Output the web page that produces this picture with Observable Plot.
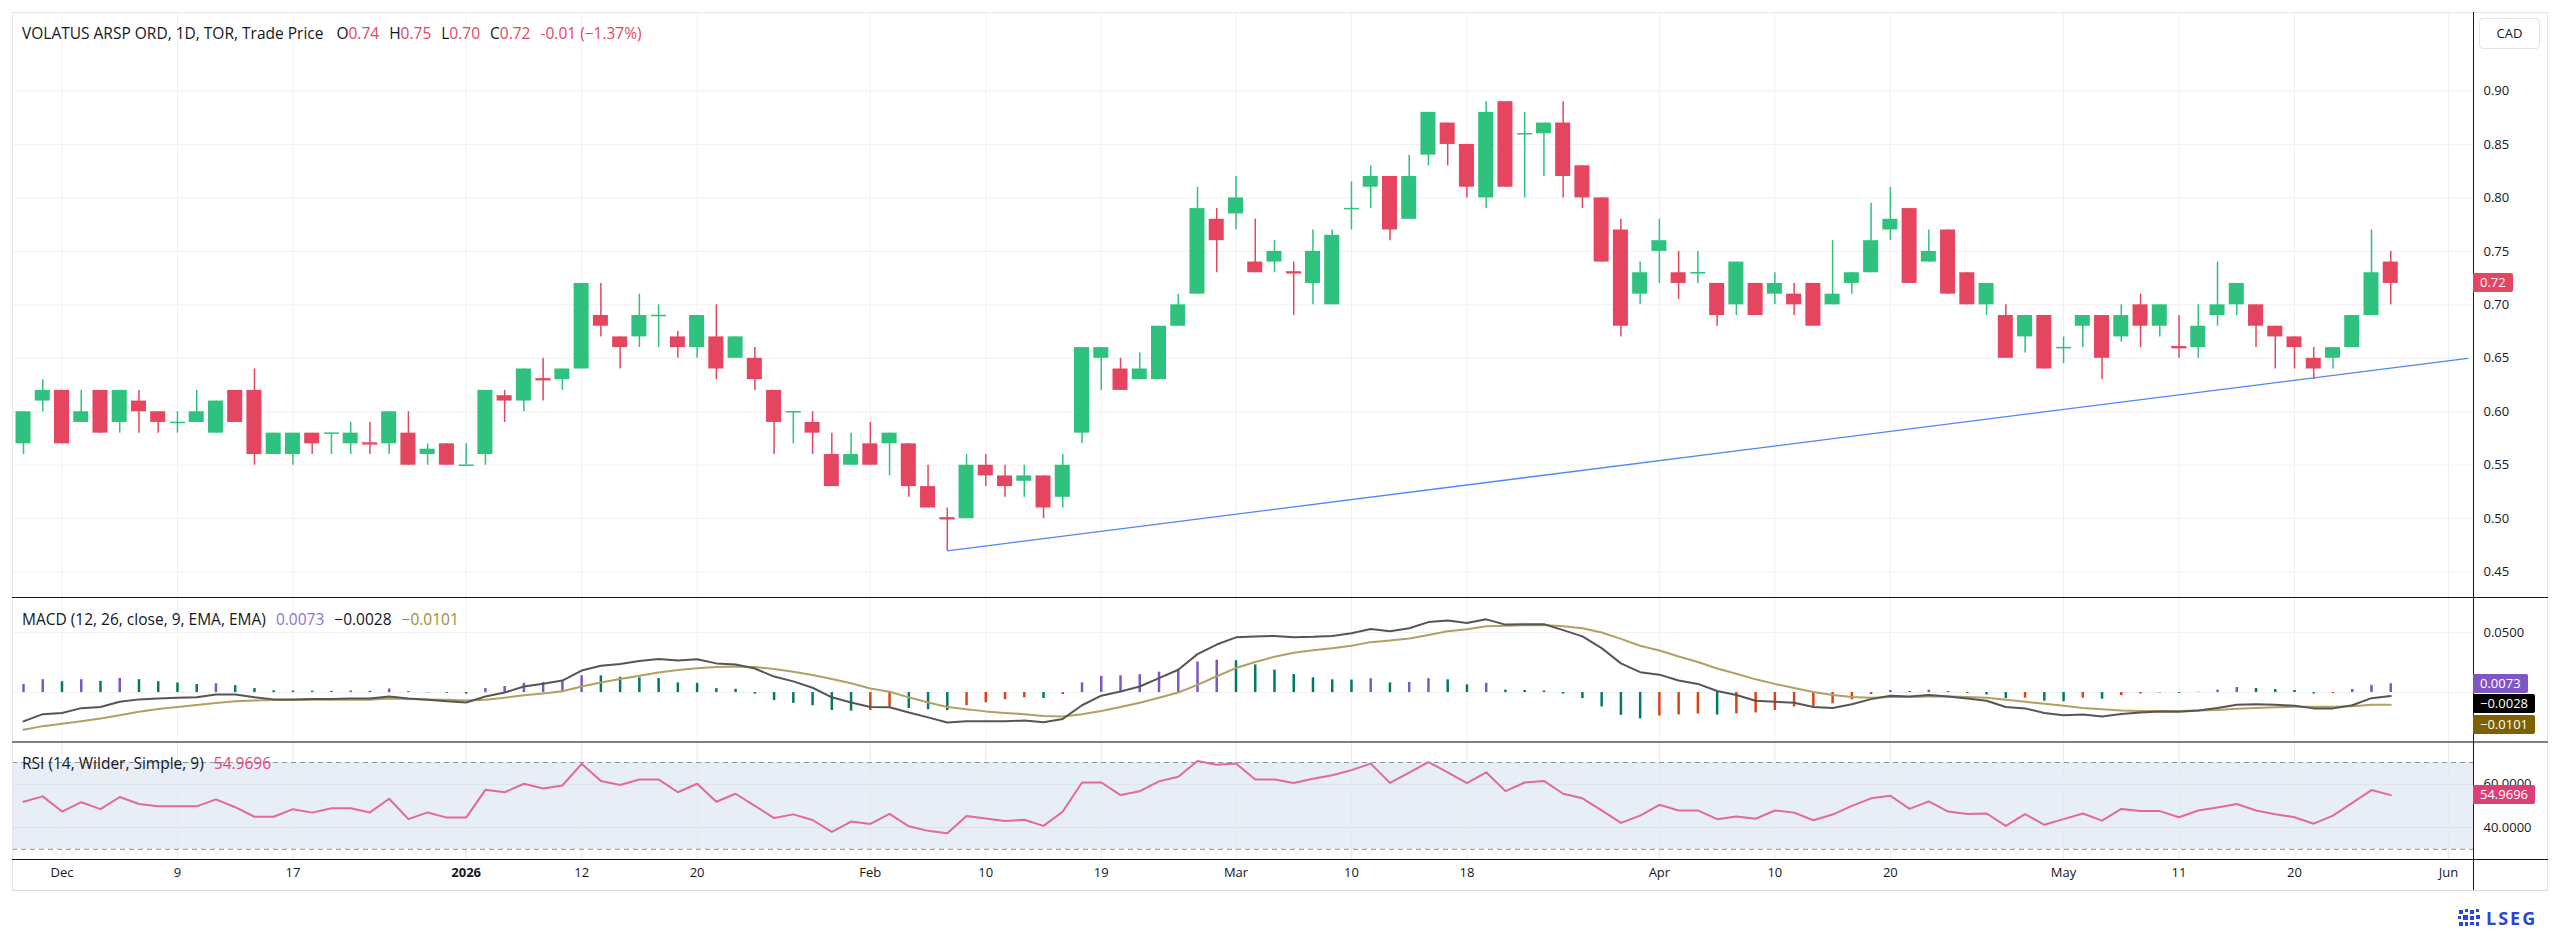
<!DOCTYPE html>
<html><head><meta charset="utf-8">
<script src="https://cdn.jsdelivr.net/npm/d3@7"></script>
<script src="https://cdn.jsdelivr.net/npm/@observablehq/plot@0.6"></script>
<style>
html,body{margin:0;padding:0;background:#fff;}
#root{position:relative;width:2560px;height:932px;overflow:hidden;font-family:"Open Sans",Roboto,sans-serif;color:#131722;}
#root svg{position:absolute;left:0;}
.ln{position:absolute;}
.legend{position:absolute;left:22px;font-size:15.5px;line-height:18px;white-space:nowrap;}
.legend span.v{margin-left:10px;}
.vbox{position:absolute;left:2473px;height:19px;line-height:19px;padding:0 7px;font-size:13px;color:#fff;border-radius:0 2px 2px 0;white-space:nowrap;}
#cad{position:absolute;left:2479px;top:18px;width:61px;height:31px;box-sizing:border-box;border:1px solid #e0e3eb;border-radius:4px;font-size:13px;line-height:29px;text-align:center;}
#logo{position:absolute;left:2457px;top:905px;height:26px;display:flex;align-items:center;gap:5px;color:#2b45d8;font-weight:bold;font-size:18px;letter-spacing:2px;}
</style></head><body><div id="root"></div>
<script>
// ---------------- data ----------------
const dates = ["2025-11-27","2025-11-28",
"2025-12-01","2025-12-02","2025-12-03","2025-12-04","2025-12-05","2025-12-08","2025-12-09","2025-12-10","2025-12-11","2025-12-12","2025-12-15","2025-12-16","2025-12-17","2025-12-18","2025-12-19","2025-12-22","2025-12-23","2025-12-24","2025-12-29","2025-12-30","2025-12-31",
"2026-01-02","2026-01-05","2026-01-06","2026-01-07","2026-01-08","2026-01-09","2026-01-12","2026-01-13","2026-01-14","2026-01-15","2026-01-16","2026-01-19","2026-01-20","2026-01-21","2026-01-22","2026-01-23","2026-01-26","2026-01-27","2026-01-28","2026-01-29","2026-01-30",
"2026-02-02","2026-02-03","2026-02-04","2026-02-05","2026-02-06","2026-02-09","2026-02-10","2026-02-11","2026-02-12","2026-02-13","2026-02-17","2026-02-18","2026-02-19","2026-02-20","2026-02-23","2026-02-24","2026-02-25","2026-02-26","2026-02-27",
"2026-03-02","2026-03-03","2026-03-04","2026-03-05","2026-03-06","2026-03-09","2026-03-10","2026-03-11","2026-03-12","2026-03-13","2026-03-16","2026-03-17","2026-03-18","2026-03-19","2026-03-20","2026-03-23","2026-03-24","2026-03-25","2026-03-26","2026-03-27","2026-03-30","2026-03-31",
"2026-04-01","2026-04-02","2026-04-06","2026-04-07","2026-04-08","2026-04-09","2026-04-10","2026-04-13","2026-04-14","2026-04-15","2026-04-16","2026-04-17","2026-04-20","2026-04-21","2026-04-22","2026-04-23","2026-04-24","2026-04-27","2026-04-28","2026-04-29","2026-04-30",
"2026-05-01","2026-05-04","2026-05-05","2026-05-06","2026-05-07","2026-05-08","2026-05-11","2026-05-12","2026-05-13","2026-05-14","2026-05-15","2026-05-19","2026-05-20","2026-05-21","2026-05-22","2026-05-25","2026-05-26","2026-05-27"];
const futureDates = ["2026-05-28","2026-05-29","2026-06-01","2026-06-02"];

const open = [.57,.61,.62,.59,.62,.59,.61,.60,.59,.59,.58,.62,.62,.56,.56,.58,.58,.57,.571,.57,
.58,.56,.57,.55,.56,.615,.61,.631,.63,.64,.69,.67,.67,.69,.67,.66,.67,.65,.65,.62,
.60,.59,.56,.55,.57,.57,.57,.53,.501,.50,.55,.54,.535,.54,.52,.58,.65,.64,.63,.63,
.68,.71,.78,.785,.74,.74,.731,.72,.70,.79,.81,.82,.78,.84,.87,.85,.80,.89,.86,.86,
.87,.83,.80,.77,.71,.75,.73,.73,.72,.70,.72,.71,.71,.72,.70,.72,.73,.77,.79,.74,
.77,.73,.70,.69,.67,.69,.66,.68,.69,.67,.70,.68,.661,.66,.69,.70,.70,.68,.67,.65,
.65,.66,.69,.74];
const high = [.60,.63,.62,.62,.62,.62,.62,.60,.60,.62,.61,.62,.64,.58,.58,.58,.58,.59,.59,.60,
.60,.57,.57,.57,.62,.62,.64,.65,.64,.72,.72,.67,.71,.70,.675,.69,.70,.67,.66,.62,
.60,.60,.58,.58,.59,.58,.57,.55,.51,.56,.56,.55,.55,.54,.56,.66,.66,.65,.655,.68,
.71,.81,.79,.82,.78,.76,.74,.77,.77,.815,.83,.82,.84,.88,.87,.85,.89,.89,.88,.87,
.89,.83,.80,.78,.74,.78,.75,.75,.72,.74,.72,.73,.72,.72,.76,.73,.795,.81,.79,.77,
.77,.73,.72,.70,.69,.69,.67,.69,.69,.70,.71,.70,.69,.70,.74,.72,.70,.68,.67,.66,
.66,.69,.77,.75];
const low = [.56,.60,.57,.59,.58,.58,.58,.58,.58,.59,.58,.59,.55,.56,.55,.56,.56,.56,.56,.56,
.55,.55,.55,.55,.55,.59,.60,.61,.62,.64,.67,.64,.66,.66,.65,.65,.63,.65,.62,.56,
.57,.56,.53,.55,.55,.54,.52,.51,.47,.50,.53,.52,.52,.50,.51,.57,.62,.62,.63,.63,
.68,.71,.73,.77,.73,.73,.69,.70,.70,.77,.79,.76,.78,.83,.83,.80,.79,.81,.80,.82,
.80,.79,.74,.67,.70,.72,.705,.72,.68,.69,.69,.70,.69,.68,.70,.71,.73,.76,.72,.74,
.71,.70,.69,.65,.655,.64,.645,.66,.63,.665,.66,.67,.65,.65,.68,.69,.66,.64,.64,.63,
.64,.66,.69,.70];
const close = [.60,.62,.57,.60,.58,.62,.60,.59,.59,.60,.61,.59,.56,.58,.58,.57,.58,.58,.570,.60,
.55,.565,.55,.55,.62,.61,.64,.630,.64,.72,.68,.66,.69,.69,.66,.69,.64,.67,.63,.59,
.60,.58,.53,.56,.55,.58,.53,.51,.500,.55,.54,.53,.54,.51,.55,.66,.66,.62,.64,.68,
.70,.79,.76,.80,.73,.75,.730,.75,.765,.79,.82,.77,.82,.88,.85,.81,.88,.81,.86,.87,
.82,.80,.74,.68,.73,.76,.72,.73,.69,.74,.69,.72,.70,.68,.71,.73,.76,.78,.72,.75,
.71,.70,.72,.65,.69,.64,.66,.69,.65,.69,.68,.70,.660,.68,.70,.72,.68,.67,.66,.64,
.66,.69,.73,.72];

const macdLine = [-.024,-.018,-.017,-.013,-.012,-.0077,-.0057,-.005,-.0043,-.004,-.0017,-.0017,-.004,-.0057,-.0057,-.0053,-.0053,-.005,-.005,-.0033,
-.005,-.006,-.0073,-.0083,-.0033,0,.005,.0073,.010,.0183,.0223,.0237,.0263,.028,.0267,.0277,.0243,.0233,.020,.0133,
.0093,.004,-.004,-.0083,-.012,-.0123,-.0167,-.0207,-.025,-.024,-.024,-.024,-.0234,-.0247,-.022,-.0106,-.0026,.0009,.005,.012,
.019,.032,.040,.046,.0468,.0472,.046,.0464,.0472,.0494,.053,.051,.0536,.0587,.060,.058,.061,.0566,.057,.057,
.052,.0468,.037,.0243,.017,.0149,.010,.0072,.0013,-.002,-.0068,-.0077,-.0085,-.012,-.0128,-.0098,-.0055,-.0026,-.0034,-.002,
-.0034,-.005,-.0068,-.012,-.0132,-.017,-.019,-.0183,-.020,-.0179,-.0166,-.0157,-.016,-.0149,-.0128,-.0102,-.0098,-.0102,-.011,-.0132,
-.0132,-.0106,-.0047,-.0028];
const signalLine = [-.031,-.028,-.026,-.024,-.0217,-.019,-.016,-.0137,-.012,-.0103,-.0087,-.0073,-.0067,-.0063,-.0063,-.006,-.006,-.006,-.006,-.005,
-.0053,-.0057,-.006,-.0067,-.006,-.0043,-.0023,-.0007,.001,.005,.0083,.0113,.014,.0167,.0187,.0203,.0213,.0217,.0213,.0197,
.0173,.0147,.0113,.0077,.0033,.0007,-.004,-.0083,-.012,-.014,-.0157,-.017,-.018,-.0196,-.020,-.018,-.0153,-.012,-.0085,-.0043,
0,.0064,.0136,.0204,.0255,.0298,.0332,.0353,.037,.039,.042,.0434,.045,.048,.051,.0528,.0553,.0557,.056,.0562,
.0553,.0536,.050,.0447,.039,.035,.030,.0255,.020,.0157,.011,.0072,.0038,.0004,-.002,-.0038,-.0043,-.0038,-.0038,-.0034,
-.0034,-.0037,-.0043,-.006,-.0077,-.0094,-.011,-.0128,-.014,-.0149,-.0153,-.0153,-.0153,-.0149,-.0145,-.0136,-.0128,-.0123,-.0119,-.0119,
-.0119,-.0115,-.0102,-.0101];
const histogram = [.0067,.0107,.009,.0107,.0093,.0117,.0107,.009,.008,.0067,.0073,.0057,.0033,.0015,.0013,.0011,.0010,.0013,.0010,.003,
.0007,-.0003,-.0007,-.0013,.0033,.005,.0077,.0083,.010,.014,.0139,.0127,.0123,.0117,.008,.0077,.0033,.0027,-.0013,-.0067,
-.009,-.011,-.015,-.0155,-.015,-.012,-.0133,-.0143,-.015,-.011,-.0085,-.006,-.0043,-.005,-.0017,.008,.0135,.014,.0149,.017,
.019,.0255,.027,.0265,.023,.0187,.015,.0123,.0106,.0104,.0115,.008,.0085,.0115,.0106,.0064,.0077,.002,.0017,.0013,
-.0013,-.005,-.012,-.019,-.022,-.0196,-.0187,-.0179,-.0187,-.0178,-.017,-.0149,-.012,-.0118,-.0094,-.006,-.0017,.0017,.0009,.002,
.0008,-.0008,-.002,-.005,-.0047,-.0072,-.0077,-.0047,-.0055,-.0026,-.0013,-.0004,-.0007,.0003,.002,.0042,.0034,.0025,.0017,-.0012,
-.0009,.0026,.006,.0073];
const rsi = [51.9,54.4,47.4,51.7,48.5,54.1,50.9,49.8,49.8,49.8,53,49.4,45,45,48.5,46.9,48.9,48.9,47,53.3,
43.9,47,44.6,44.6,57.4,56.3,60.2,58,59.4,69.4,61.5,59.6,62.2,62.2,56.3,60.2,51.9,55.6,50,44.4,
46.1,43.5,38,42.8,41.7,46.3,40.6,38.5,37.4,45.4,44.2,43,43.6,40.8,47.4,60.8,60.8,55,56.8,61.3,
63.4,70.7,69,69.5,62.2,62.2,60.6,62.5,64.1,66.5,69.5,60.6,65.3,70.2,65.5,60.5,65.5,56.8,60.8,61.5,
55.6,53.5,47.9,42.2,45.5,50.5,47.9,47.9,43.9,45.1,44.1,47.9,46.9,43.4,46,50,53.5,54.7,48.6,52.1,
47.4,46.3,46.5,40.8,46.2,41.3,43.9,46.5,43.2,48.6,47.6,47.6,44.8,47.9,49.3,50.9,47.9,46.2,44.8,41.8,
45.5,51.4,57.3,54.9696];

const trendPoints = [{date:"2026-02-06", value:0.47},{date:"2026-06-02", value:0.65}];
const tickDates = ["2025-12-01","2025-12-09","2025-12-17","2026-01-02","2026-01-12","2026-01-20","2026-02-02","2026-02-10","2026-02-19","2026-03-02","2026-03-10","2026-03-18","2026-04-01","2026-04-10","2026-04-20","2026-05-01","2026-05-11","2026-05-20","2026-06-01"];
const tickLabels = ["Dec","9","17","2026","12","20","Feb","10","19","Mar","10","18","Apr","10","20","May","11","20","Jun"];
const yearLabels = ["2026"];
const priceTicks = [0.45,0.50,0.55,0.60,0.65,0.70,0.75,0.80,0.85,0.90];
const macdGrid = [0,0.05];
const macdAxisTicks = [0.05];
const rsiBand = [30,70];
const rsiGrid = [40,60];
const titleText = "VOLATUS ARSP ORD, 1D, TOR, Trade Price";
const ohlcKeys = ["O","H","L","C"];
const changeText = "-0.01 (−1.37%)";
const currency = "CAD";
const macdTitle = "MACD (12, 26, close, 9, EMA, EMA)";
const rsiTitle = "RSI (14, Wilder, Simple, 9)";

// ---------------- styles ----------------
const UP = "#2ec27e", DOWN = "#e5455f", GRID = "#f0f1f4";
const PURPLE = "#7e57c2", TEAL = "#00796b", ORANGE = "#d84315";
const MACDC = "#555555", SIGC = "#b39f62", RSIC = "#e26a96";
const FONT = '"Open Sans",Roboto,sans-serif';
const W = 2560, ML = 12, MR = 87;
const xDomain = [-0.5716, 127.3];

const allDates = dates.concat(futureDates);
const ix = d => allDates.indexOf(d);
const candles = dates.map((d,i)=>({i, date:d, open:open[i], high:high[i], low:low[i], close:close[i]}));
const col = d => d.close >= d.open ? UP : DOWN;
const dojis = candles.filter(d => Math.abs(d.close - d.open) < 0.0015);
const ticks = tickDates.map((d,k)=>({i: ix(d), label: tickLabels[k]}));
const tickI = ticks.map(t=>t.i);
const trend = trendPoints.map(p=>({i: ix(p.date), value: p.value}));
const macdData = dates.map((d,i)=>({i, macd: macdLine[i], signal: signalLine[i], hist: histogram[i],
  color: (()=>{const h=histogram[i], p=histogram[i-1];
    if (h >= 0) return (p === undefined || h > p) ? PURPLE : TEAL;
    return h < p ? TEAL : ORANGE;})()}));
const rsiData = dates.map((d,i)=>({i, v: rsi[i]}));
const xOpt = {type:"linear", domain:xDomain, axis:null};
const style = {fontFamily:FONT, fontSize:"13px", color:"#131722", background:"transparent", overflow:"visible"};
const yAxis = (t, fmt) => Plot.axisY(t, {anchor:"right", tickSize:0, tickPadding:10, tickFormat:d3.format(fmt), fill:"#131722", fontSize:13, label:null});

const root = document.getElementById("root");

// ---------------- main (price) pane ----------------
const main = Plot.plot({
  width: W, height: 597, marginTop: 12, marginBottom: 0, marginLeft: ML, marginRight: MR,
  x: xOpt, y: {domain:[0.4263, 0.9734], label:null}, style,
  marks: [
    Plot.ruleY(priceTicks, {stroke: GRID}),
    Plot.ruleX(tickI, {stroke: GRID}),
    Plot.line(trend, {x:"i", y:"value", stroke:"#4f86f7", strokeWidth:1.3}),
    Plot.ruleX(candles, {x:"i", y1:"low", y2:"high", stroke: col, strokeWidth:1.5}),
    Plot.rect(candles, {x1: d=>d.i-0.39, x2: d=>d.i+0.39, y1:"open", y2:"close", fill: col}),
    Plot.link(dojis, {x1: d=>d.i-0.39, x2: d=>d.i+0.39, y1:"close", y2:"close", stroke: col, strokeWidth:1.5}),
    yAxis(priceTicks, ".2f")
  ]
});
main.style.top = "0px";
root.append(main);

// ---------------- MACD pane ----------------
const macdPlot = Plot.plot({
  width: W, height: 144, marginTop: 0, marginBottom: 0, marginLeft: ML, marginRight: MR,
  x: xOpt, y: {domain:[-0.0408, 0.0792], label:null}, style,
  marks: [
    Plot.ruleY(macdGrid, {stroke: GRID}),
    Plot.ruleX(tickI, {stroke: GRID}),
    Plot.ruleX(macdData, {x:"i", y1:0, y2:"hist", stroke:"color", strokeWidth:2.5}),
    Plot.line(macdData, {x:"i", y:"signal", stroke:SIGC, strokeWidth:2}),
    Plot.line(macdData, {x:"i", y:"macd", stroke:MACDC, strokeWidth:2}),
    yAxis(macdAxisTicks, ".4f")
  ]
});
macdPlot.style.top = "597px";
root.append(macdPlot);

// ---------------- RSI pane + time axis ----------------
const rsiPlot = Plot.plot({
  width: W, height: 191, marginTop: 0, marginBottom: 73, marginLeft: ML, marginRight: MR,
  x: xOpt, y: {domain:[25.3, 79.68], label:null}, style,
  marks: [
    Plot.rect([rsiBand], {x1: xDomain[0], x2: xDomain[1], y1: d=>d[0], y2: d=>d[1], fill:"#e8eef5"}),
    Plot.ruleY(rsiGrid, {stroke:"#d9e0ea"}),
    Plot.ruleX(tickI, {stroke:"#e6e9ee"}),
    Plot.ruleY(rsiBand, {stroke:"#8f929a", strokeDasharray:"5,4", strokeWidth:1}),
    Plot.line(rsiData, {x:"i", y:"v", stroke:RSIC, strokeWidth:2}),
    yAxis(rsiGrid, ".4f"),
    Plot.text(ticks.filter(t=>!yearLabels.includes(t.label)), {x:"i", text:"label", frameAnchor:"bottom", dy:17, fill:"#131722", fontSize:13}),
    Plot.text(ticks.filter(t=>yearLabels.includes(t.label)), {x:"i", text:"label", frameAnchor:"bottom", dy:17, fill:"#131722", fontSize:13, fontWeight:"bold"})
  ]
});
rsiPlot.style.top = "741px";
root.append(rsiPlot);

// ---------------- frame lines ----------------
function line(l,t,w,h,c){const e=document.createElement("div");e.className="ln";Object.assign(e.style,{left:l+"px",top:t+"px",width:w+"px",height:h+"px",background:c});root.append(e);}
line(12,12,2536,1,"#e4e6eb");   // top
line(12,12,1,878,"#e4e6eb");    // left
line(2547,12,1,878,"#e4e6eb");  // right
line(12,890,2536,1,"#d6d8dd");  // bottom
line(12,597,2536,1,"#131722");
line(12,741,2536,1.5,"#7b7e86");
line(12,859,2536,1,"#131722");
line(2473,12,1,878,"#131722");

// ---------------- legends ----------------
const last = candles[candles.length-1];
const f2 = d3.format(".2f"), f4 = d3.format(".4f");
const lastColor = col(last);
const hdr = document.createElement("div"); hdr.className="legend"; hdr.style.top="24px";
hdr.innerHTML = `<span>${titleText}</span>` +
  ohlcKeys.map((k,j)=>`<span class="v" style="margin-left:${j?10:13}px">${k}<span style="color:${lastColor}">${f2([last.open,last.high,last.low,last.close][j])}</span></span>`).join("") +
  `<span class="v" style="color:${lastColor}">${changeText}</span>`;
root.append(hdr);

const lm = macdData[macdData.length-1];
const mleg = document.createElement("div"); mleg.className="legend"; mleg.style.top="610px";
mleg.innerHTML = `<span>${macdTitle}</span><span class="v" style="color:#8d72c9">${f4(lm.hist)}</span><span class="v" style="color:#131722">${f4(lm.macd)}</span><span class="v" style="color:#a38b3a">${f4(lm.signal)}</span>`;
root.append(mleg);

const lr = rsiData[rsiData.length-1];
const rleg = document.createElement("div"); rleg.className="legend"; rleg.style.top="754px";
rleg.innerHTML = `<span>${rsiTitle}</span><span class="v" style="color:#e0457b">${f4(lr.v)}</span>`;
root.append(rleg);

// ---------------- value boxes ----------------
function vbox(text,bg,yc){const e=document.createElement("div");e.className="vbox";e.style.background=bg;e.style.top=(yc-9.5)+"px";e.textContent=text;root.append(e);return yc;}
const sy = main.scale("y"), my = macdPlot.scale("y"), ry = rsiPlot.scale("y");
vbox(f2(last.close), lastColor, sy.apply(last.close));
let y0 = vbox(f4(lm.hist), PURPLE, 597 + my.apply(lm.hist));
let y1 = vbox(f4(lm.macd), "#000000", Math.max(597 + my.apply(lm.macd), y0 + 20.5));
vbox(f4(lm.signal), "#7d6100", Math.max(597 + my.apply(lm.signal), y1 + 20.5));
vbox(f4(lr.v), "#dc3f76", 741 + ry.apply(lr.v));

const cad = document.createElement("div"); cad.id="cad"; cad.textContent=currency; root.append(cad);
const logo = document.createElement("div"); logo.id="logo";
logo.innerHTML = `<svg width="24" height="20" viewBox="0 0 24 20" style="position:static"><g fill="#2b45d8">
<rect x="2" y="2" width="4" height="4"/><rect x="8" y="1" width="3" height="3"/><rect x="13" y="2" width="4" height="4"/><rect x="19" y="1" width="3" height="3"/>
<rect x="1" y="8" width="3" height="3"/><rect x="6" y="7" width="5" height="5"/><rect x="13" y="8" width="4" height="4"/><rect x="19" y="7" width="4" height="4"/>
<rect x="2" y="14" width="4" height="4"/><rect x="8" y="14" width="3" height="4"/><rect x="13" y="14" width="4" height="3"/><rect x="19" y="14" width="3" height="4"/></g></svg><span>LSEG</span>`;
root.append(logo);
</script></body></html>
